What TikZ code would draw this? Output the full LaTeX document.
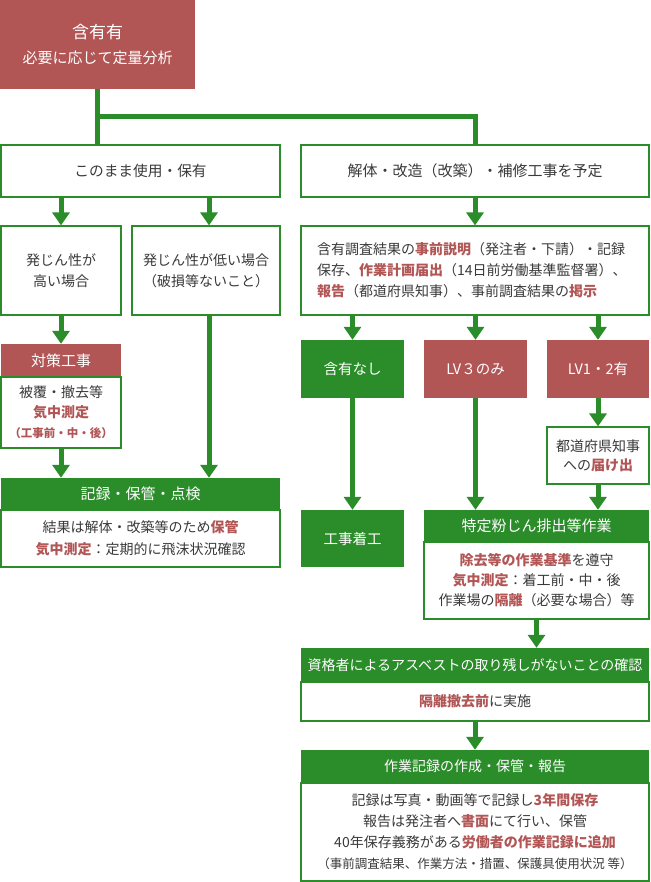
\documentclass[tikz,border=0pt]{standalone}
\usepackage{fontspec}
\setmainfont{Noto Sans CJK JP}
\usetikzlibrary{arrows.meta}
\definecolor{gr}{HTML}{2B8C2A}
\definecolor{rd}{HTML}{B25555}
\definecolor{tx}{HTML}{3A3A3A}
\newcommand\hl[1]{{\bfseries\color{rd}#1}}
\newcommand\fs[2]{\fontsize{#1}{#2}\selectfont}
\begin{document}
\begin{tikzpicture}[x=1pt,y=-1pt,
  box/.style={draw=gr,line width=1.2pt,fill=white,inner sep=0pt,text=tx,align=center,font=\fs{14}{21}},
  redbox/.style={fill=rd,inner sep=0pt,text=white,align=center,font=\fs{14}{21}},
  grbox/.style={fill=gr,inner sep=0pt,text=white,align=center,font=\fs{14}{21}},
  arr/.style={draw=gr,line width=5pt,-{Triangle[width=17pt,length=13pt]}},
  conn/.style={draw=gr,line width=5pt},
]
\fill[white] (0,0) rectangle (650,882);
\useasboundingbox (0,0) rectangle (650,882);

% top
\node[redbox,minimum width=195pt,minimum height=89pt,font=\fs{15}{25}] (top) at (97.5,44.5)
  {{\fs{17}{25}含有有}\\必要に応じて定量分析};

% level 2
\node[box,minimum width=279pt,minimum height=52pt,font=\fs{14.7}{21}] (keep) at (140.5,171) {このまま使用・保有};
\node[box,minimum width=348pt,minimum height=52pt,font=\fs{15}{21}] (plan) at (475,171) {解体・改造（改築）・補修工事を予定};

% left column
\node[box,minimum width=120pt,minimum height=89pt] (high) at (61,270.5) {発じん性が\\高い場合};
\node[box,minimum width=148pt,minimum height=89pt] (low) at (206,270.5) {発じん性が低い場合\\（破損等ないこと）};

\node[redbox,minimum width=120pt,minimum height=33pt,font=\fs{15}{21}] (taih) at (61,360.5) {対策工事};
\node[box,minimum width=120pt,minimum height=71pt,font=\fs{14}{20}] (taib) at (61,412.5)
  {被覆・撤去等\\\hl{気中測定}\\{\fs{11.5}{20}\hl{（工事前・中・後）}}};

\node[grbox,minimum width=279pt,minimum height=32pt,font=\fs{15}{21}] (kirh) at (140.5,494) {記録・保管・点検};
\node[box,minimum width=279pt,minimum height=57pt,font=\fs{14}{22}] (kirb) at (140.5,538.5)
  {結果は解体・改築等のため\hl{保管}\\\hl{気中測定}：定期的に飛沫状況確認};

% right column
\node[box,minimum width=348pt,minimum height=89pt,text width=316pt,align=left] (surv) at (475,270.5)
  {含有調査結果の\hl{事前説明}（発注者・下請）・記録\\
   保存、\hl{作業計画届出}（14日前労働基準監督署）、\\
   \hl{報告}（都道府県知事）、事前調査結果の\hl{掲示}};

\node[grbox,minimum width=103pt,minimum height=58pt,font=\fs{14.5}{21}] (none) at (352.5,369) {含有なし};
\node[redbox,minimum width=103pt,minimum height=58pt,font=\fs{14.5}{21}] (lv3) at (475.5,369) {LV３のみ};
\node[redbox,minimum width=102pt,minimum height=58pt,font=\fs{14.5}{21}] (lv12) at (598,369) {LV1・2有};

\node[box,minimum width=102pt,minimum height=57pt,font=\fs{14}{19}] (noti) at (598,455.5) {都道府県知事\\への\hl{届け出}};

\node[grbox,minimum width=103pt,minimum height=57pt,font=\fs{14.5}{21}] (chak) at (352.5,538.5) {工事着工};

\node[grbox,minimum width=225pt,minimum height=32pt,font=\fs{15}{21}] (tokh) at (536.5,526) {特定粉じん排出等作業};
\node[box,minimum width=225pt,minimum height=77pt,font=\fs{14}{20}] (tokb) at (536.5,580.5)
  {\hl{除去等の作業基準}を遵守\\\hl{気中測定}：着工前・中・後\\作業場の\hl{隔離}（必要な場合）等};

\node[grbox,minimum width=348pt,minimum height=34pt] (shih) at (475,665) {資格者によるアスベストの取り残しがないことの確認};
\node[box,minimum width=348pt,minimum height=39pt] (shib) at (475,701.5) {\hl{隔離撤去前}に実施};

\node[grbox,minimum width=348pt,minimum height=33pt] (sagh) at (475,766.5) {作業記録の作成・保管・報告};
\node[box,minimum width=348pt,minimum height=98pt] (sagb) at (475,832)
  {記録は写真・動画等で記録し\hl{3年間保存}\\
   報告は発注者へ\hl{書面}にて行い、保管\\
   40年保存義務がある\hl{労働者の作業記録に追加}\\
   {\fs{12.5}{19}（事前調査結果、作業方法・措置、保護具使用状況 等）}};

% connectors
\coordinate (split) at (97.5,117);
\draw[conn] (top.south) -- (top.south |- keep.north);
\draw[conn] (split) -| (plan.north);

\draw[arr] ([xshift=-79.5pt]keep.south) -- (high.north);
\draw[arr] ([xshift=68.5pt]keep.south) -- ([xshift=3pt]low.north);
\draw[arr] (high.south) -- (taih.north);
\draw[arr] (taib.south) -- (taib.south |- kirh.north);
\draw[arr] ([xshift=3pt]low.south) -- ([xshift=3pt]low.south |- kirh.north);

\draw[arr] (plan.south) -- (surv.north);
\draw[arr] (surv.south -| none) -- (none.north);
\draw[arr] (surv.south -| lv3) -- (lv3.north);
\draw[arr] (surv.south -| lv12) -- (lv12.north);
\draw[arr] (none.south) -- (chak.north);
\draw[arr] (lv3.south) -- (lv3.south |- tokh.north);
\draw[arr] (lv12.south) -- (noti.north);
\draw[arr] (noti.south) -- (noti.south |- tokh.north);
\draw[arr] (tokb.south) -- (tokb.south |- shih.north);
\draw[arr] (shib.south) -- (sagh.north);
\end{tikzpicture}
\end{document}
